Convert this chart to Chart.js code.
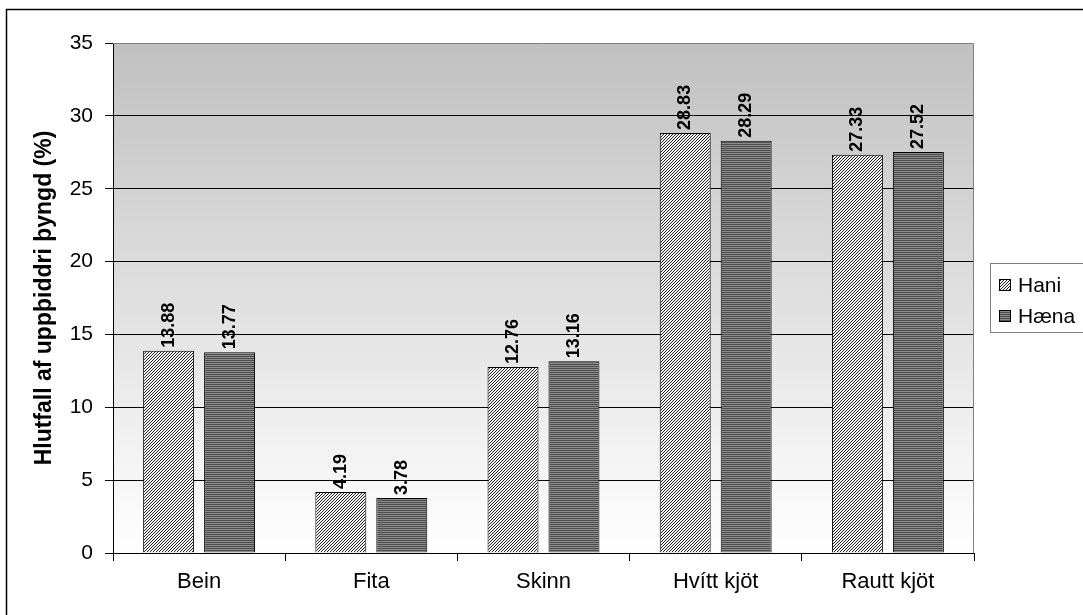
<!DOCTYPE html>
<html>
<head>
<meta charset="utf-8">
<title>Hlutfall af uppþiddri þyngd</title>
<script src="https://cdn.jsdelivr.net/npm/chart.js@4/dist/chart.umd.min.js"></script>
<style>
  html, body { margin: 0; padding: 0; background: #fff; }
  #wrap { width: 1083px; height: 615px; position: relative; }
</style>
</head>
<body>
<div id="wrap"><canvas id="chart"></canvas></div>
<script>
// data
const categories = ['Bein', 'Fita', 'Skinn', 'Hvítt kjöt', 'Rautt kjöt'];
const haniValues = [13.88, 4.19, 12.76, 28.83, 27.33];
const haenaValues = [13.77, 3.78, 13.16, 28.29, 27.52];
const seriesNames = ['Hani', 'Hæna'];
const yTicks = [0, 5, 10, 15, 20, 25, 30, 35];

const FONT = '"Liberation Sans", Arial, sans-serif';

// fill patterns for the bars
function makeHatch() {
  const c = document.createElement('canvas');
  c.width = 3; c.height = 3;
  const g = c.getContext('2d');
  g.fillStyle = '#f2f2f2';
  g.fillRect(0, 0, 3, 3);
  g.fillStyle = '#262626';
  for (let i = 0; i < 3; i++) g.fillRect(2 - i, i, 1, 1);
  return g.createPattern(c, 'repeat');
}
function makeStripes() {
  const c = document.createElement('canvas');
  c.width = 4; c.height = 2;
  const g = c.getContext('2d');
  g.fillStyle = '#8a8a8a';
  g.fillRect(0, 0, 4, 2);
  g.fillStyle = '#4e4e4e';
  g.fillRect(0, 0, 4, 1);
  return g.createPattern(c, 'repeat');
}
const patterns = [makeHatch(), makeStripes()];

// grey gradient behind the plot, outer frame, grey plot border
const framePlugin = {
  id: 'frame',
  beforeDraw(chart) {
    const { ctx, chartArea: a } = chart;
    ctx.save();
    const grad = ctx.createLinearGradient(0, a.top, 0, a.bottom);
    grad.addColorStop(0, '#c0c0c0');
    grad.addColorStop(1, '#ffffff');
    ctx.fillStyle = grad;
    ctx.fillRect(a.left, a.top, a.right - a.left, a.bottom - a.top);
    ctx.strokeStyle = '#000';
    ctx.lineWidth = 1.5;
    ctx.strokeRect(6.5, 9.5, 1200, 800);
    ctx.restore();
  },
  afterDatasetsDraw(chart) {
    const { ctx, chartArea: a } = chart;
    ctx.save();
    ctx.strokeStyle = '#808080';
    ctx.lineWidth = 1;
    ctx.beginPath();
    ctx.moveTo(a.left, a.top + 0.5);
    ctx.lineTo(a.right - 0.5, a.top + 0.5);
    ctx.lineTo(a.right - 0.5, a.bottom);
    ctx.stroke();
    ctx.restore();
  }
};

// rotated value labels above the bars
const valueLabels = {
  id: 'valueLabels',
  afterDatasetsDraw(chart) {
    const { ctx } = chart;
    ctx.save();
    ctx.font = 'bold 18px ' + FONT;
    ctx.fillStyle = '#000';
    ctx.textAlign = 'left';
    ctx.textBaseline = 'middle';
    chart.data.datasets.forEach((ds, i) => {
      chart.getDatasetMeta(i).data.forEach((bar, j) => {
        ctx.save();
        ctx.translate(bar.x, bar.y - 3);
        ctx.rotate(-Math.PI / 2);
        ctx.fillText(ds.data[j].toFixed(2), 0, 0);
        ctx.restore();
      });
    });
    ctx.restore();
  }
};

// boxed legend on the right
const boxLegend = {
  id: 'boxLegend',
  afterDraw(chart) {
    const { ctx } = chart;
    ctx.save();
    ctx.fillStyle = '#fff';
    ctx.fillRect(990, 263, 120, 69);
    ctx.strokeStyle = '#808080';
    ctx.lineWidth = 1;
    ctx.strokeRect(990.5, 263.5, 120, 69);
    ctx.font = '21px ' + FONT;
    ctx.textBaseline = 'middle';
    chart.data.datasets.forEach((ds, i) => {
      const y = 285 + i * 31;
      ctx.fillStyle = patterns[i];
      ctx.fillRect(999, y - 6, 12, 12);
      ctx.strokeStyle = '#000';
      ctx.strokeRect(999.5, y - 5.5, 11, 11);
      ctx.fillStyle = '#000';
      ctx.fillText(ds.label, 1018, y + 1);
    });
    ctx.restore();
  }
};

new Chart(document.getElementById('chart'), {
  type: 'bar',
  data: {
    labels: categories,
    datasets: [
      { label: seriesNames[0], data: haniValues, backgroundColor: patterns[0], borderColor: '#000', borderWidth: 1 },
      { label: seriesNames[1], data: haenaValues, backgroundColor: patterns[1], borderColor: '#000', borderWidth: 1 }
    ]
  },
  options: {
    responsive: true,
    maintainAspectRatio: false,
    animation: false,
    datasets: { bar: { categoryPercentage: 0.708, barPercentage: 0.836 } },
    layout: { padding: { left: 0, top: 43, right: 109, bottom: 0 } },
    plugins: { legend: { display: false }, tooltip: { enabled: false } },
    scales: {
      x: {
        afterFit(scale) { scale.height = 62; },
        grid: { offset: true, drawOnChartArea: false, color: '#000', tickLength: 8 },
        border: { color: '#000', width: 1 },
        ticks: { color: '#000', font: { family: FONT, size: 22 }, padding: 8 }
      },
      y: {
        min: 0,
        max: 35,
        afterFit(scale) { scale.width = 113; },
        afterBuildTicks(scale) { scale.ticks = yTicks.map(v => ({ value: v })); },
        grid: {
          color: ctx => (ctx.tick && ctx.tick.value === 35 ? 'rgba(0,0,0,0)' : '#000'),
          tickColor: '#000',
          tickLength: 8
        },
        border: { color: '#000', width: 1 },
        ticks: { color: '#000', font: { family: FONT, size: 21 }, padding: 12 },
        title: {
          display: true,
          text: 'Hlutfall af uppþiddri þyngd (%)',
          color: '#000',
          font: { family: FONT, size: 23, weight: 'bold' },
          padding: { top: 31, bottom: 0 }
        }
      }
    }
  },
  plugins: [framePlugin, valueLabels, boxLegend]
});
</script>
</body>
</html>
